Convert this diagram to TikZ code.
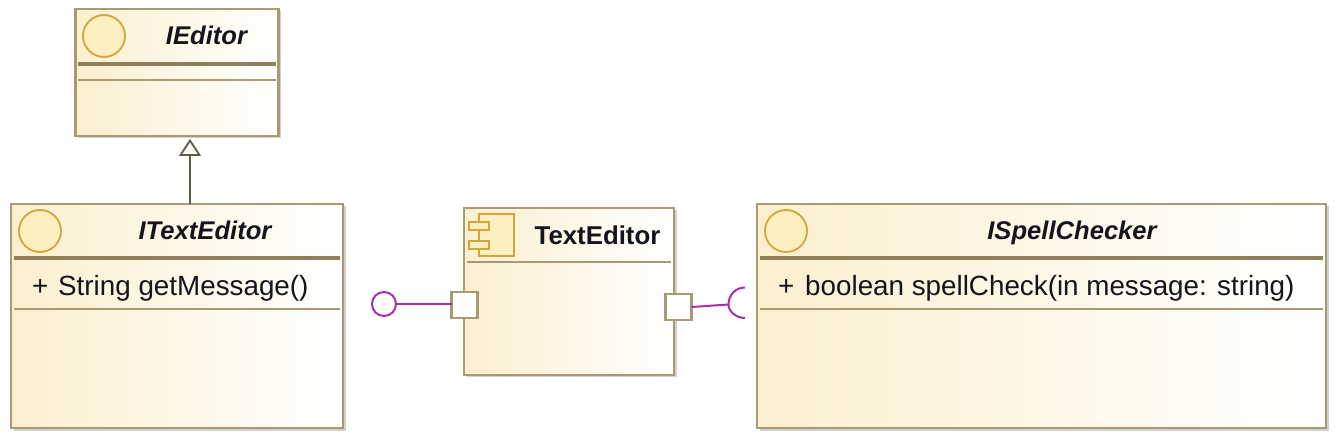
\documentclass[tikz,border=0pt]{standalone}
\usepackage{fontspec}
\setmainfont{Liberation Sans}
\usetikzlibrary{arrows.meta,shadows,positioning}
\definecolor{edgec}{HTML}{A89A73}
\definecolor{thickc}{HTML}{8F7F5A}
\definecolor{cream}{HTML}{FBEFCF}
\definecolor{iconfill}{HTML}{FDEFC0}
\definecolor{iconline}{HTML}{D3A53C}
\definecolor{purp}{HTML}{A92EA8}
\definecolor{arrowc}{HTML}{5F5A4A}
\definecolor{textc}{HTML}{14141C}
\tikzset{
  umlbox/.style={draw=edgec,line width=2.4pt,left color=cream,right color=white,shading=axis,shading angle=90,
    inner sep=0,outer sep=0,drop shadow={shadow xshift=2.5pt,shadow yshift=-2.5pt,opacity=.3,fill=black!60}},
  ifcircle/.style={circle,draw=iconline,line width=1.8pt,fill=iconfill,minimum size=42pt,inner sep=0,outer sep=0},
  divthick/.style={draw=thickc,line width=3.6pt},
  divthin/.style={draw=edgec,line width=2pt},
  titlei/.style={font=\fontsize{25.6}{30}\selectfont\bfseries\itshape,text=textc,inner sep=0,anchor=base},
  titleb/.style={font=\fontsize{25.8}{30}\selectfont\bfseries,text=textc,inner sep=0,anchor=base},
  member/.style={font=\fontsize{27.8}{32}\selectfont,text=textc,inner sep=0,anchor=base west},
  portbox/.style={draw=edgec,line width=2.4pt,fill=white,inner sep=0,outer sep=0,minimum width=26pt,minimum height=26pt},
  purpline/.style={draw=purp,line width=2pt},
  compicon/.style={draw=iconline,line width=2pt,fill=iconfill,inner sep=0,outer sep=0},
}
\begin{document}
\begin{tikzpicture}[x=1pt,y=-1pt]
\useasboundingbox (0,0) rectangle (1336,435);
% boxes
\node[umlbox,minimum width=203pt,minimum height=127pt] (ieditor) at (177,72.5) {};
\node[umlbox,minimum width=332pt,minimum height=224pt] (itext) at (177,316) {};
\node[umlbox,minimum width=569pt,minimum height=224pt] (ispell) at (1041.5,316) {};
\node[umlbox,minimum width=210pt,minimum height=167pt] (comp) at (569,291.5) {};
% compartment lines
\draw[divthick] (78,64) -- (276,64);
\draw[divthin] (78,80) -- (276,80);
\draw[divthick] (14,258) -- (340,258);
\draw[divthin] (14,309) -- (340,309);
\draw[divthick] (760,258) -- (1323,258);
\draw[divthin] (760,309) -- (1323,309);
\draw[divthin] (467,262) -- (671,262);
% circles
\node[ifcircle] (c1) at (104,36) {};
\node[ifcircle] (c2) at (40,231) {};
\node[ifcircle] (c3) at (786,231) {};
% titles
\node[titlei] (t1) at (206.5,45) {IEditor};
\node[titlei] (t2) at (205,240) {ITextEditor};
\node[titlei] (t3) at (1072,240) {ISpellChecker};
\node[titleb] (t4) at (597.5,245) {TextEditor};
% members
\node[member] (m1a) at (32,296) {+};
\node[member] (m1b) at (58,296) {String getMessage()};
\node[member] (m2a) at (778,296) {+};
\node[member] (m2b) at (805,296) {boolean spellCheck(in message: string)};
% component icon
\node[compicon,minimum width=35pt,minimum height=42pt] (ibody) at (496.5,235) {};
\node[compicon,minimum width=20pt,minimum height=8pt] (itab1) at (479,226) {};
\node[compicon,minimum width=20pt,minimum height=8pt] (itab2) at (479,245) {};
% ports
\node[portbox] (pl) at (464.5,305) {};
\node[portbox] (pr) at (678.5,307) {};
% lollipop
\node[circle,draw=purp,line width=2pt,fill=white,minimum size=24pt,inner sep=0,outer sep=0] (ball) at (384,304) {};
\draw[purpline] (ball.east) -- (ball.east -| pl.west);
% socket
\coordinate (sock) at (728.5,304.5);
\draw[purpline] (pr.east) -- (sock);
\draw[purpline] (745,287.5) .. controls (735.5,287.5) and (728.5,295) .. (sock) .. controls (728.5,311) and (735.5,318) .. (745,318);
% generalization
\draw[draw=arrowc,line width=2pt,-{Triangle[open,length=17pt,width=22pt,line width=1.8pt,fill=white]},shorten >=3pt]
  ([xshift=13pt]itext.north) -- ([xshift=13pt]ieditor.south);
\end{tikzpicture}
\end{document}
